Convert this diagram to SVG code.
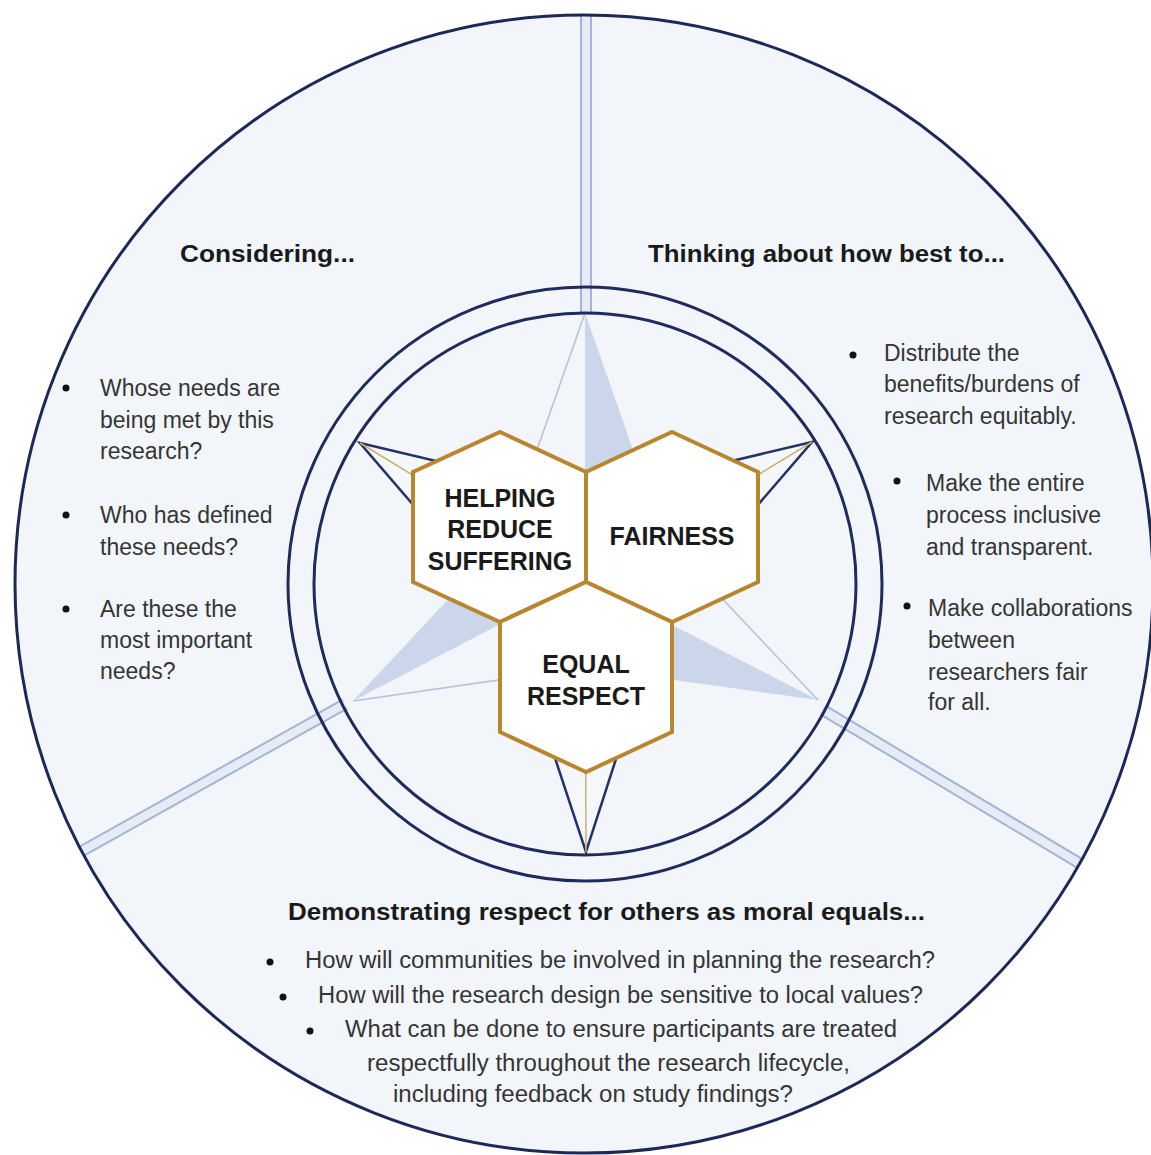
<svg xmlns="http://www.w3.org/2000/svg" width="1151" height="1155" viewBox="0 0 1151 1155">
  <defs>
    <style>
      .ring { fill: none; stroke: #1f2b5e; stroke-width: 3; }
      .band-edge { stroke: #a3b4d4; stroke-width: 12; stroke-linecap: butt; fill: none; }
      .band-fill { stroke: #e6ecf6; stroke-width: 8; stroke-linecap: butt; fill: none; }
      .shade { fill: #cbd6eb; stroke: none; }
      .thin { stroke: #b7c3da; stroke-width: 1.6; fill: none; }
      .small-pt { fill: #f5f7fb; stroke: #24326a; stroke-width: 2.5; stroke-linejoin: miter; }
      .gold-axis { stroke: #cdb071; stroke-width: 1.5; fill: none; }
      .hex { fill: #ffffff; stroke: #b8862e; stroke-width: 4; stroke-linejoin: miter; }
      .hex-label { font-family: "Liberation Sans", Arial, sans-serif; font-weight: bold; font-size: 25px; fill: #1a1a1a; text-anchor: middle; }
      .head { font-family: "Liberation Sans", Arial, sans-serif; font-weight: bold; font-size: 23px; fill: #1a1a1a; }
      .body { font-family: "Liberation Sans", Arial, sans-serif; font-size: 23px; fill: #353535; }
      .dot { fill: #111111; }
    </style>
  </defs>

  <rect x="0" y="0" width="1151" height="1155" fill="#ffffff"/>
  <circle cx="584" cy="584" r="569" fill="#f2f5fa"/>

  <g id="dividers">
    <line class="band-edge" x1="586" y1="15" x2="586" y2="313"/>
    <line class="band-fill" x1="586" y1="15" x2="586" y2="313"/>
    <line class="band-edge" x1="82" y1="851" x2="345" y2="704"/>
    <line class="band-fill" x1="82" y1="851" x2="345" y2="704"/>
    <line class="band-edge" x1="1079" y1="863" x2="823" y2="710"/>
    <line class="band-fill" x1="1079" y1="863" x2="823" y2="710"/>
  </g>

  <g id="star">
    <!-- large shaded points -->
    <polygon class="shade" points="585,313 678.7,580 585,580"/>
    <line class="thin" x1="585" y1="313" x2="491.3" y2="580"/>
    <polygon class="shade" points="353,701 542.5,498.5 585,580"/>
    <line class="thin" x1="353" y1="701" x2="627.5" y2="661.5"/>
    <polygon class="shade" points="818,700 542.9,661.8 585,580"/>
    <line class="thin" x1="818" y1="700" x2="627.1" y2="498.2"/>
    <!-- small outlined points -->
    <polygon class="small-pt" points="360,443 629.5,506.9 585,580 540.5,653.1"/>
    <line class="gold-axis" x1="360" y1="443" x2="585" y2="580"/>
    <polygon class="small-pt" points="812,442 540.2,506.3 585,580 629.8,653.7"/>
    <line class="gold-axis" x1="812" y1="442" x2="585" y2="580"/>
    <polygon class="small-pt" points="586,852 496.3,580 585,580 673.7,580"/>
    <line class="gold-axis" x1="586" y1="852" x2="585" y2="580"/>
  </g>

  <g id="rings">
    <circle class="ring" cx="585" cy="584" r="271"/>
    <circle class="ring" cx="585" cy="584" r="297"/>
    <circle cx="584" cy="584" r="569" fill="none" stroke="#1c2858" stroke-width="3"/>
  </g>

  <g id="hex-helping">
    <polygon class="hex" points="500,432 586,472 586,582 500,622 413,582 413,472"/>
    <text class="hex-label" x="500" y="507">HELPING</text>
    <text class="hex-label" x="500" y="538">REDUCE</text>
    <text class="hex-label" x="500" y="570">SUFFERING</text>
  </g>
  <g id="hex-fairness">
    <polygon class="hex" points="672,432 758,472 758,582 672,622 586,582 586,472"/>
    <text class="hex-label" x="672" y="545">FAIRNESS</text>
  </g>
  <g id="hex-equal-respect">
    <polygon class="hex" points="586,582 672,622 672,732 586,772 500,732 500,622"/>
    <text class="hex-label" x="586" y="673">EQUAL</text>
    <text class="hex-label" x="586" y="705">RESPECT</text>
  </g>

  <g id="section-considering">
    <text class="head" x="180" y="262" textLength="175" lengthAdjust="spacingAndGlyphs">Considering...</text>
    <circle class="dot" cx="66" cy="388" r="3.5"/>
    <text class="body" x="100" y="396">Whose needs are</text>
    <text class="body" x="100" y="428">being met by this</text>
    <text class="body" x="100" y="459">research?</text>
    <circle class="dot" cx="66" cy="515" r="3.5"/>
    <text class="body" x="100" y="523">Who has defined</text>
    <text class="body" x="100" y="555">these needs?</text>
    <circle class="dot" cx="66" cy="609" r="3.5"/>
    <text class="body" x="100" y="617">Are these the</text>
    <text class="body" x="100" y="648">most important</text>
    <text class="body" x="100" y="679">needs?</text>
  </g>

  <g id="section-thinking">
    <text class="head" x="648" y="262" textLength="357" lengthAdjust="spacingAndGlyphs">Thinking about how best to...</text>
    <circle class="dot" cx="853" cy="355" r="3.5"/>
    <text class="body" x="884" y="361">Distribute the</text>
    <text class="body" x="884" y="392">benefits/burdens of</text>
    <text class="body" x="884" y="424">research equitably.</text>
    <circle class="dot" cx="897" cy="481" r="3.5"/>
    <text class="body" x="926" y="491">Make the entire</text>
    <text class="body" x="926" y="523">process inclusive</text>
    <text class="body" x="926" y="555">and transparent.</text>
    <circle class="dot" cx="907" cy="606" r="3.5"/>
    <text class="body" x="928" y="616">Make collaborations</text>
    <text class="body" x="928" y="648">between</text>
    <text class="body" x="928" y="680">researchers fair</text>
    <text class="body" x="928" y="710">for all.</text>
  </g>

  <g id="section-demonstrating">
    <text class="head" x="288" y="920" textLength="637" lengthAdjust="spacingAndGlyphs">Demonstrating respect for others as moral equals...</text>
    <circle class="dot" cx="270" cy="962" r="3.5"/>
    <text class="body" x="305" y="968" textLength="630" lengthAdjust="spacingAndGlyphs">How will communities be involved in planning the research?</text>
    <circle class="dot" cx="283" cy="997" r="3.5"/>
    <text class="body" x="318" y="1003" textLength="605" lengthAdjust="spacingAndGlyphs">How will the research design be sensitive to local values?</text>
    <circle class="dot" cx="310" cy="1031" r="3.5"/>
    <text class="body" x="345" y="1037" textLength="552" lengthAdjust="spacingAndGlyphs">What can be done to ensure participants are treated</text>
    <text class="body" x="367" y="1071" textLength="483" lengthAdjust="spacingAndGlyphs">respectfully throughout the research lifecycle,</text>
    <text class="body" x="393" y="1102" textLength="400" lengthAdjust="spacingAndGlyphs">including feedback on study findings?</text>
  </g>
</svg>
